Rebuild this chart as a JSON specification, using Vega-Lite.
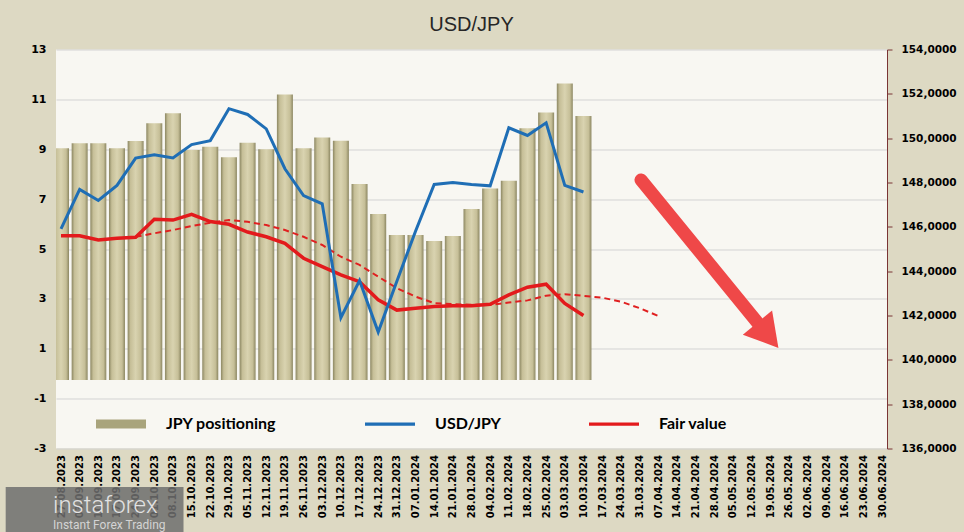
{
  "$schema": "https://vega.github.io/schema/vega-lite/v6.json",
  "width": 831,
  "height": 399,
  "autosize": {"type": "none"},
  "padding": {"left": 56, "top": 49.5, "right": 77, "bottom": 83.5},
  "background": "#DDD9C3",
  "title": {
    "text": "USD/JPY",
    "font": "Liberation Sans",
    "fontSize": 20,
    "fontWeight": "normal",
    "color": "#262626",
    "anchor": "middle",
    "offset": 9
  },
  "config": {
    "view": {"fill": "#F8F7F2", "stroke": null}
  },
  "data": {
    "values": [
      {"date": "2023-08-27", "pos": 9.04, "usdjpy": 145.91, "fair": 5.53, "trend": null},
      {"date": "2023-09-03", "pos": 9.24, "usdjpy": 147.69, "fair": 5.53, "trend": null},
      {"date": "2023-09-10", "pos": 9.24, "usdjpy": 147.19, "fair": 5.36, "trend": null},
      {"date": "2023-09-17", "pos": 9.04, "usdjpy": 147.87, "fair": 5.43, "trend": null},
      {"date": "2023-09-24", "pos": 9.33, "usdjpy": 149.10, "fair": 5.47, "trend": 5.49},
      {"date": "2023-10-01", "pos": 10.04, "usdjpy": 149.25, "fair": 6.19, "trend": 5.63},
      {"date": "2023-10-08", "pos": 10.44, "usdjpy": 149.11, "fair": 6.16, "trend": 5.76},
      {"date": "2023-10-15", "pos": 8.97, "usdjpy": 149.71, "fair": 6.39, "trend": 5.92},
      {"date": "2023-10-22", "pos": 9.10, "usdjpy": 149.89, "fair": 6.10, "trend": 6.05},
      {"date": "2023-10-29", "pos": 8.68, "usdjpy": 151.33, "fair": 5.99, "trend": 6.16},
      {"date": "2023-11-05", "pos": 9.26, "usdjpy": 151.07, "fair": 5.68, "trend": 6.09},
      {"date": "2023-11-12", "pos": 9.00, "usdjpy": 150.42, "fair": 5.49, "trend": 5.96},
      {"date": "2023-11-19", "pos": 11.20, "usdjpy": 148.62, "fair": 5.23, "trend": 5.76},
      {"date": "2023-11-26", "pos": 9.04, "usdjpy": 147.41, "fair": 4.63, "trend": 5.49},
      {"date": "2023-12-03", "pos": 9.47, "usdjpy": 147.04, "fair": 4.29, "trend": 5.16},
      {"date": "2023-12-10", "pos": 9.34, "usdjpy": 141.90, "fair": 3.96, "trend": 4.69},
      {"date": "2023-12-17", "pos": 7.61, "usdjpy": 143.58, "fair": 3.69, "trend": 4.36},
      {"date": "2023-12-24", "pos": 6.40, "usdjpy": 141.25, "fair": 2.96, "trend": 3.89},
      {"date": "2023-12-31", "pos": 5.56, "usdjpy": 143.55, "fair": 2.55, "trend": 3.43},
      {"date": "2024-01-07", "pos": 5.56, "usdjpy": 145.80, "fair": 2.62, "trend": 3.09},
      {"date": "2024-01-14", "pos": 5.32, "usdjpy": 147.91, "fair": 2.69, "trend": 2.83},
      {"date": "2024-01-21", "pos": 5.52, "usdjpy": 148.00, "fair": 2.72, "trend": 2.79},
      {"date": "2024-01-28", "pos": 6.60, "usdjpy": 147.91, "fair": 2.72, "trend": 2.76},
      {"date": "2024-02-04", "pos": 7.43, "usdjpy": 147.85, "fair": 2.78, "trend": 2.76},
      {"date": "2024-02-11", "pos": 7.74, "usdjpy": 150.47, "fair": 3.16, "trend": 2.85},
      {"date": "2024-02-18", "pos": 9.84, "usdjpy": 150.12, "fair": 3.47, "trend": 2.94},
      {"date": "2024-02-25", "pos": 10.47, "usdjpy": 150.69, "fair": 3.59, "trend": 3.13},
      {"date": "2024-03-03", "pos": 11.64, "usdjpy": 147.87, "fair": 2.82, "trend": 3.19},
      {"date": "2024-03-10", "pos": 10.33, "usdjpy": 147.57, "fair": 2.33, "trend": 3.12},
      {"date": "2024-03-17", "pos": null, "usdjpy": null, "fair": null, "trend": 3.05},
      {"date": "2024-03-24", "pos": null, "usdjpy": null, "fair": null, "trend": 2.89},
      {"date": "2024-03-31", "pos": null, "usdjpy": null, "fair": null, "trend": 2.63},
      {"date": "2024-04-07", "pos": null, "usdjpy": null, "fair": null, "trend": 2.32}
    ]
  },
  "layer": [
    {
      "layer": [
        {
          "mark": {"type": "bar", "width": 16, "clip": true},
          "encoding": {
            "x": {
              "field": "date",
              "type": "temporal",
              "scale": {
                "type": "utc",
                "nice": false,
                "domain": [
                  {"year": 2023, "month": 8, "date": 27, "utc": true},
                  {"year": 2024, "month": 6, "date": 30, "utc": true}
                ]
              },
              "axis": {
                "title": null,
                "labelExpr": "utcFormat(datum.value, '%d.%m.%Y')",
                "tickCount": {"interval": "week", "step": 1},
                "labelAngle": 270,
                "labelFont": "DejaVu Sans",
                "labelFontWeight": "bold",
                "labelFontSize": 10,
                "labelColor": "#000000",
                "labelPadding": 6,
                "labelOverlap": false,
                "labelFlush": false,
                "labelBound": false,
                "domain": false,
                "ticks": false,
                "grid": false
              }
            },
            "y": {
              "field": "pos",
              "type": "quantitative",
              "scale": {"domain": [-3, 13], "nice": false, "zero": false},
              "axis": {
                "title": null,
                "values": [-3, -1, 1, 3, 5, 7, 9, 11, 13],
                "labelExpr": "datum.value < 0 ? '-' + abs(datum.value) : '' + datum.value",
                "labelFont": "DejaVu Sans",
                "labelFontWeight": "bold",
                "labelFontSize": 11,
                "labelColor": "#000000",
                "labelPadding": 10,
                "domain": false,
                "ticks": false,
                "grid": true,
                "gridColor": "#D3D3D3",
                "gridWidth": 1
              }
            },
            "y2": {"datum": -0.25},
            "fill": {
              "value": {
                "gradient": "linear",
                "x1": 0, "y1": 0, "x2": 1, "y2": 0,
                "stops": [
                  {"offset": 0, "color": "#8C8762"},
                  {"offset": 0.18, "color": "#C6BF98"},
                  {"offset": 0.5, "color": "#D9D3B0"},
                  {"offset": 0.82, "color": "#C6BF98"},
                  {"offset": 1, "color": "#8C8762"}
                ]
              }
            }
          }
        },
        {
          "mark": {"type": "line", "color": "#E02020", "strokeWidth": 2, "strokeDash": [6, 4]},
          "encoding": {
            "x": {"field": "date", "type": "temporal"},
            "y": {"field": "trend", "type": "quantitative"}
          }
        },
        {
          "mark": {"type": "line", "strokeWidth": 3.5},
          "encoding": {
            "x": {"field": "date", "type": "temporal"},
            "y": {"field": "fair", "type": "quantitative"},
            "color": {
              "datum": "Fair value",
              "scale": {
                "domain": ["JPY positioning", "USD/JPY", "Fair value"],
                "range": ["#A9A47C", "#1F6EB5", "#E31A1C"]
              },
              "legend": {
                "orient": "none",
                "legendX": 40,
                "legendY": 349.5,
                "direction": "horizontal",
                "columns": 3,
                "title": null,
                "padding": 0,
                "symbolSize": 2500,
                "symbolType": "M-1,-0.18H1V0.18H-1Z",
                "symbolStrokeWidth": 0,
                "labelFont": "Lato",
                "labelFontWeight": "bold",
                "labelFontSize": 16,
                "labelColor": "#000000",
                "labelOffset": 20,
                "columnPadding": 88,
                "encode": {
                  "symbols": {
                    "update": {
                      "shape": {"signal": "datum.value === 'JPY positioning' ? 'M-1,-0.18H1V0.18H-1Z' : 'M-1,-0.065H1V0.065H-1Z'"},
                      "fill": {"signal": "datum.value === 'JPY positioning' ? '#A9A47C' : (datum.value === 'USD/JPY' ? '#1F6EB5' : '#E31A1C')"},
                      "stroke": {"value": "transparent"},
                      "opacity": {"value": 1}
                    }
                  }
                }
              }
            }
          }
        },
        {
          "data": {"values": [{"x1": "2024-03-31T14:00:00Z", "y1": 7.77, "x2": "2024-05-18T05:00:00Z", "y2": 1.54}]},
          "mark": {"type": "rule", "color": "#EF4848", "strokeWidth": 13, "strokeCap": "round"},
          "encoding": {
            "x": {"field": "x1", "type": "temporal"},
            "y": {"field": "y1", "type": "quantitative"},
            "x2": {"field": "x2"},
            "y2": {"field": "y2"}
          }
        },
        {
          "data": {"values": [{"x": "2024-05-18T05:00:00Z", "y": 1.54}]},
          "mark": {"type": "point", "shape": "triangle-up", "size": 1444, "angle": 140.4, "filled": true, "color": "#EF4848", "opacity": 1},
          "encoding": {
            "x": {"field": "x", "type": "temporal"},
            "y": {"field": "y", "type": "quantitative"}
          }
        },
        {
          "data": {"values": [{"x1": "2023-08-06T06:00:00Z", "x2": "2023-10-11T23:00:00Z", "y1": -4.54, "y2": -6.4}]},
          "mark": {"type": "rect", "color": "#6F6F6F", "opacity": 0.85},
          "encoding": {
            "x": {"field": "x1", "type": "temporal"},
            "x2": {"field": "x2"},
            "y": {"field": "y1", "type": "quantitative"},
            "y2": {"field": "y2"}
          }
        },
        {
          "data": {"values": [{"x": "2023-08-24T00:00:00Z", "y": -5.58, "t": "instaforex"}]},
          "mark": {"type": "text", "font": "Roboto", "fontSize": 24, "fontWeight": 300, "color": "#E2E2E2", "align": "left", "baseline": "alphabetic"},
          "encoding": {
            "x": {"field": "x", "type": "temporal"},
            "y": {"field": "y", "type": "quantitative"},
            "text": {"field": "t"}
          }
        },
        {
          "data": {"values": [{"x": "2023-08-24T00:00:00Z", "y": -6.24, "t": "Instant Forex Trading"}]},
          "mark": {"type": "text", "font": "Roboto", "fontSize": 12, "color": "#D4D4D4", "align": "left", "baseline": "alphabetic"},
          "encoding": {
            "x": {"field": "x", "type": "temporal"},
            "y": {"field": "y", "type": "quantitative"},
            "text": {"field": "t"}
          }
        }
      ]
    },
    {
      "mark": {"type": "line", "strokeWidth": 3},
      "encoding": {
        "x": {"field": "date", "type": "temporal"},
        "y": {
          "field": "usdjpy",
          "type": "quantitative",
          "scale": {"domain": [136, 154], "nice": false, "zero": false},
          "axis": {
            "orient": "right",
            "title": null,
            "values": [136, 138, 140, 142, 144, 146, 148, 150, 152, 154],
            "labelExpr": "replace(format(datum.value, '.4f'), '.', ',')",
            "labelFont": "DejaVu Sans",
            "labelFontWeight": "bold",
            "labelFontSize": 10.5,
            "labelColor": "#000000",
            "labelPadding": 9,
            "domain": true,
            "domainColor": "#7A3434",
            "ticks": true,
            "tickColor": "#7A3434",
            "tickSize": 5,
            "grid": false
          }
        },
        "color": {"datum": "USD/JPY"}
      }
    }
  ],
  "resolve": {"scale": {"y": "independent"}}
}
